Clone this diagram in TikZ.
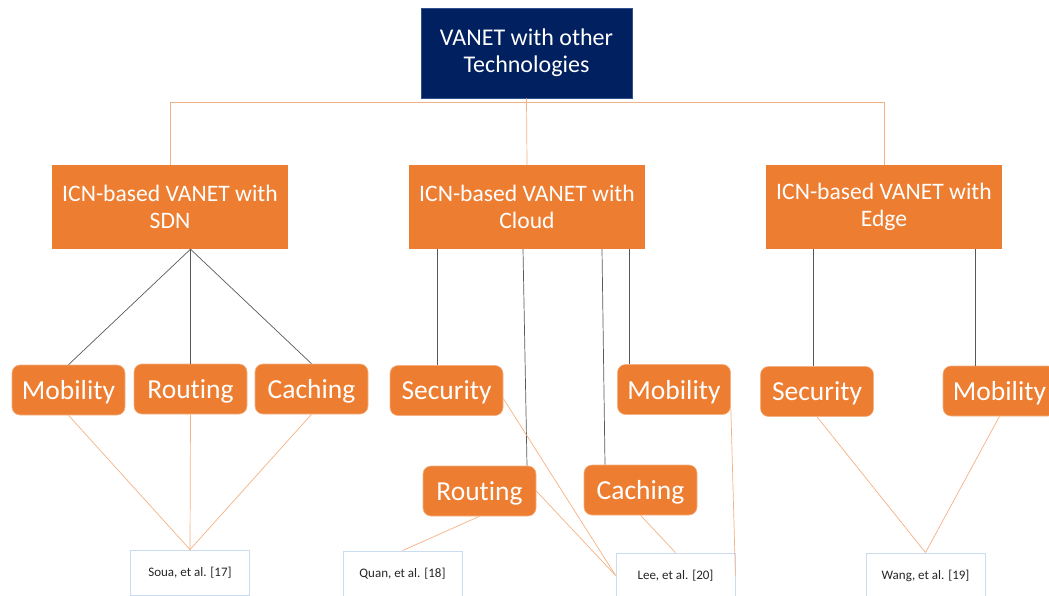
\documentclass[tikz,border=0pt]{standalone}
\usepackage{fontspec}
\setmainfont{Carlito}[Ligatures=NoCommon]
\usetikzlibrary{calc}
\definecolor{navy}{HTML}{002060}
\definecolor{navyedge}{HTML}{2F528F}
\definecolor{org}{HTML}{ED7D31}
\definecolor{lorg}{HTML}{F4B183}
\definecolor{refedge}{HTML}{C9DCF0}
\definecolor{gline}{HTML}{595959}
\definecolor{reftext}{HTML}{262626}
\begin{document}
\begin{tikzpicture}[x=1pt,y=-1pt,
  topbox/.style={rectangle,fill=navy,draw=navyedge,line width=0.8pt,minimum width=211pt,minimum height=90pt,text=white,align=center,font=\fontsize{24}{27}\selectfont,inner sep=0pt},
  catbox/.style={rectangle,fill=org,draw=none,minimum width=236pt,minimum height=84pt,text=white,align=center,font=\fontsize{23.6}{26.5}\selectfont,inner sep=0pt},
  topicbox/.style={rectangle,rounded corners=8pt,fill=org,draw=org!60!white,line width=0.6pt,minimum width=113pt,minimum height=50pt,text=white,font=\fontsize{27.5}{30}\selectfont,text depth=0pt,inner sep=0pt},
  refbox/.style={rectangle,fill=white,draw=refedge,line width=0.8pt,minimum width=119pt,minimum height=45pt,text=reftext,font=\fontsize{13}{15}\selectfont,inner sep=0pt},
  oline/.style={draw=lorg,line width=0.7pt},
  kline/.style={draw=gline,line width=0.7pt}]
\useasboundingbox (0,0) rectangle (1049,596);

% top
\node[topbox] (top) at (526.5,53) {VANET with other\\Technologies};

% categories
\node[catbox] (sdn) at (170,207) {ICN-based VANET with\\SDN};
\node[catbox] (cloud) at (527,207) {ICN-based VANET with\\Cloud};
\node[catbox] (edge) at (884,207) {ICN-based VANET with\\Edge};

% topics
\node[topicbox] (mob1) at (68.5,390) {Mobility};
\node[topicbox] (rou1) at (190.5,389) {Routing};
\node[topicbox] (cac1) at (311.5,389) {Caching};
\node[topicbox] (sec2) at (446.5,390.5) {Security};
\node[topicbox] (mob2) at (674,389.5) {Mobility};
\node[topicbox] (rou2) at (479.5,491) {Routing};
\node[topicbox] (cac2) at (640.5,490) {Caching};
\node[topicbox] (sec3) at (817,391.5) {Security};
\node[topicbox] (mob3) at (999.5,391) {Mobility};

% references
\node[refbox] (soua) at (190,572.5) {Soua, et al. [17]};
\node[refbox] (quan) at (402.5,573.5) {Quan, et al. [18]};
\node[refbox] (lee) at (675.5,575.5) {Lee, et al. [20]};
\node[refbox] (wang) at (925.5,575.5) {Wang, et al. [19]};

% helper x positions
\coordinate (xa) at (437,0);
\coordinate (xb) at (523,0);
\coordinate (xc) at (602,0);
\coordinate (xd) at (629,0);
\coordinate (xe) at (813,0);
\coordinate (xf) at (975,0);
\coordinate (xg) at (527,0);
\coordinate (xh) at (605,0);

% top connectors
\draw[oline] (cloud.north) -- (top.south);
\draw[oline] (sdn.north) -- ++(0,-62) -| (edge.north);

% black connectors
\draw[kline] (sdn.south -| rou1.north) -- (mob1.north);
\draw[kline] (sdn.south -| rou1.north) -- (rou1.north);
\draw[kline] (sdn.south -| rou1.north) -- (cac1.north);
\draw[kline] (cloud.south -| xa) -- (sec2.north -| xa);
\draw[kline] (cloud.south -| xb) -- (rou2.north -| xg);
\draw[kline] (cloud.south -| xc) -- (cac2.north -| xh);
\draw[kline] (cloud.south -| xd) -- (mob2.north -| xd);
\draw[kline] (edge.south -| xe) -- (sec3.north -| xe);
\draw[kline] (edge.south -| xf) -- (mob3.north -| xf);

% orange connectors to references
\draw[oline] (mob1.south) -- (soua.north);
\draw[oline] (rou1.south) -- (soua.north);
\draw[oline] (cac1.south) -- (soua.north);
\draw[oline] (rou2.south) -- (quan.north);
\draw[oline] ($(sec2.east)+(0,8)$) -- (lee.west);
\draw[oline] (rou2.east) -- (lee.west);
\draw[oline] (cac2.south) -- (lee.north);
\draw[oline] ($(mob2.east)+(0,17)$) -- (lee.east);
\draw[oline] (sec3.south) -- (wang.north);
\draw[oline] (mob3.south) -- (wang.north);
\end{tikzpicture}
\end{document}
